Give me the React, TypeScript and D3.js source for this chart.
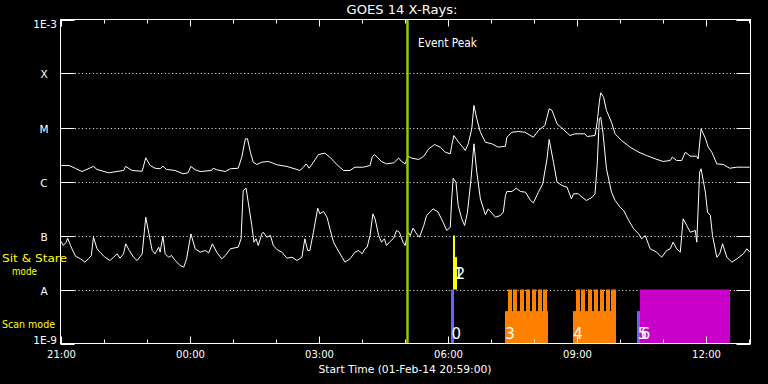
import React from "react";
import * as d3 from "d3";

// ---------------- DATA ----------------
// Time axis: start 01-Feb-14 20:59:00 UT
const startTime = "2014-02-01T20:59:00Z";
const endTime = "2014-02-02T13:02:00Z";
const refTime = "2014-02-01T21:00:00Z"; // series times are minutes after this

// GOES 14 long channel (1-8 A), W/m^2
const longMinutes = [0, 11, 20, 29, 45, 50, 66, 87, 90, 99, 113, 118, 124, 131, 138, 142, 147, 159, 170, 177, 181, 187, 194, 210, 212, 217, 229, 236, 247, 252, 257, 260, 264, 268, 273, 280, 289, 296, 301, 315, 329, 333, 338, 342, 346, 352, 359, 368, 375, 385, 394, 403, 410, 422, 431, 434, 437, 441, 447, 454, 464, 471, 475, 480, 484, 489, 499, 506, 513, 521, 529, 536, 543, 545, 548, 554, 564, 568, 573, 576, 580, 585, 592, 601, 610, 620, 622, 629, 638, 647, 659, 666, 675, 681, 685, 692, 699, 710, 717, 731, 734, 745, 748, 751, 753, 757, 761, 768, 773, 782, 794, 806, 817, 829, 840, 850, 853, 859, 866, 871, 878, 887, 889, 893, 899, 903, 908, 915, 924, 933, 943, 952, 961];
const longFlux = [1.98e-6, 1.98e-6, 1.74e-6, 1.53e-6, 1.9e-6, 1.67e-6, 1.45e-6, 1.6e-6, 1.9e-6, 1.6e-6, 1.55e-6, 2.75e-6, 1.98e-6, 1.76e-6, 1.72e-6, 1.92e-6, 1.67e-6, 1.6e-6, 1.39e-6, 1.45e-6, 1.9e-6, 1.65e-6, 1.53e-6, 1.6e-6, 1.76e-6, 1.65e-6, 1.53e-6, 1.72e-6, 1.76e-6, 2.82e-6, 6.17e-6, 6.17e-6, 3.49e-6, 2.28e-6, 2.07e-6, 2.28e-6, 2.35e-6, 2.18e-6, 2.04e-6, 1.9e-6, 1.67e-6, 1.6e-6, 1.84e-6, 2.12e-6, 1.76e-6, 2.28e-6, 3.16e-6, 3.34e-6, 2.82e-6, 2.04e-6, 1.6e-6, 1.6e-6, 1.84e-6, 1.84e-6, 1.98e-6, 2.82e-6, 3.16e-6, 2.82e-6, 2.35e-6, 2.12e-6, 2.22e-6, 2.71e-6, 2.35e-6, 2.12e-6, 2.94e-6, 2.71e-6, 2.56e-6, 2.94e-6, 4.03e-6, 4.84e-6, 4.32e-6, 3.49e-6, 3.26e-6, 4.64e-6, 7.11e-6, 5.51e-6, 3.75e-6, 4.99e-6, 9.46e-6, 2.56e-5, 1.45e-5, 8.18e-6, 5.34e-6, 4.99e-6, 4.32e-6, 4.5e-6, 6.61e-6, 8.18e-6, 8.43e-6, 8.18e-6, 6.61e-6, 8.8e-6, 1.09e-5, 2.22e-5, 2.07e-5, 1.17e-5, 9.7e-6, 7.11e-6, 7.64e-6, 7.64e-6, 6.81e-6, 7.11e-6, 1.25e-5, 2.94e-5, 4.4e-5, 3.62e-5, 2.07e-5, 1.25e-5, 7.64e-6, 5.75e-6, 4.32e-6, 3.49e-6, 3.03e-6, 2.63e-6, 2.35e-6, 2.45e-6, 2.82e-6, 2.45e-6, 2.45e-6, 3.49e-6, 2.94e-6, 2.94e-6, 2.63e-6, 9.46e-6, 6.34e-6, 4.32e-6, 3.49e-6, 2.12e-6, 2.07e-6, 1.76e-6, 1.84e-6, 1.84e-6, 1.84e-6];

// GOES 14 short channel (0.5-4 A), W/m^2
const shortMinutes = [0, 3, 7, 9, 13, 15, 20, 27, 33, 38, 42, 45, 50, 54, 61, 68, 73, 78, 82, 87, 90, 95, 101, 106, 113, 118, 122, 127, 131, 136, 138, 142, 145, 150, 154, 159, 166, 171, 175, 181, 187, 194, 201, 206, 211, 217, 224, 229, 236, 247, 251, 254, 258, 261, 266, 269, 272, 275, 280, 282, 287, 292, 296, 301, 308, 315, 322, 329, 336, 340, 344, 347, 352, 358, 361, 366, 371, 375, 380, 385, 392, 396, 403, 410, 415, 420, 424, 427, 431, 435, 438, 443, 447, 451, 454, 459, 464, 468, 472, 477, 480, 484, 487, 491, 496, 500, 506, 510, 519, 526, 533, 538, 543, 545, 547, 551, 554, 559, 563, 567, 572, 576, 580, 585, 592, 596, 602, 606, 613, 617, 620, 622, 629, 635, 641, 648, 655, 659, 666, 672, 678, 681, 687, 692, 699, 706, 712, 715, 722, 724, 733, 741, 745, 748, 751, 753, 756, 761, 768, 773, 780, 785, 792, 799, 806, 810, 815, 822, 831, 838, 845, 850, 854, 859, 864, 868, 873, 878, 885, 887, 891, 893, 899, 902, 906, 909, 915, 919, 923, 929, 936, 943, 952, 957, 961];
const shortFlux = [7.74e-8, 6.53e-8, 7.52e-8, 8.91e-8, 6.53e-8, 5.67e-8, 4.14e-8, 3.7e-8, 3.21e-8, 3.7e-8, 4.26e-8, 9.3e-8, 5.67e-8, 4.91e-8, 3.96e-8, 3.44e-8, 3.96e-8, 4.58e-8, 3.8e-8, 4.58e-8, 7.02e-8, 5.28e-8, 3.96e-8, 3.44e-8, 4.58e-8, 2.18e-7, 1.15e-7, 5.28e-8, 4.58e-8, 6.08e-8, 4.91e-8, 9.7e-8, 4.58e-8, 3.96e-8, 4.26e-8, 3.44e-8, 2.78e-8, 2.59e-8, 3.7e-8, 1.07e-7, 5.67e-8, 4.91e-8, 5.28e-8, 4.77e-8, 7.02e-8, 4.91e-8, 3.7e-8, 4.26e-8, 5.67e-8, 6.08e-8, 8.69e-8, 6.81e-7, 7.52e-7, 4.14e-7, 1.53e-7, 7.52e-8, 8.69e-8, 6.53e-8, 1.07e-7, 1.15e-7, 9.3e-8, 1.0e-7, 6.53e-8, 5.51e-8, 4.91e-8, 3.8e-8, 3.96e-8, 3.44e-8, 3.96e-8, 8.69e-8, 5.28e-8, 5.28e-8, 1.15e-7, 3.21e-7, 2.52e-7, 2.78e-7, 2.18e-7, 1.33e-7, 7.52e-8, 5.67e-8, 3.96e-8, 3.21e-8, 3.7e-8, 4.91e-8, 5.28e-8, 4.58e-8, 5.67e-8, 6.08e-8, 1.0e-7, 2.52e-7, 2.04e-7, 1.0e-7, 7.52e-8, 8.69e-8, 6.53e-8, 7.74e-8, 8.91e-8, 1.24e-7, 1.15e-7, 7.52e-8, 6.53e-8, 1.15e-7, 1.0e-7, 1.37e-7, 1.07e-7, 9.3e-8, 1.53e-7, 2.35e-7, 3.12e-7, 2.71e-7, 1.76e-7, 1.24e-7, 1.42e-7, 4.77e-7, 1.15e-6, 9.7e-7, 3.59e-7, 2.04e-7, 1.53e-7, 2.71e-7, 1.12e-6, 4.99e-6, 1.49e-6, 4.77e-7, 2.42e-7, 3.12e-7, 2.52e-7, 2.18e-7, 2.35e-7, 2.71e-7, 5.51e-7, 6.53e-7, 6.53e-7, 7.52e-7, 6.53e-7, 6.34e-7, 4.45e-7, 4.03e-7, 6.34e-7, 9.03e-7, 2.63e-6, 6.0e-6, 2.28e-6, 9.7e-7, 8.43e-7, 7.84e-7, 4.77e-7, 5.92e-7, 5.92e-7, 5.51e-7, 4.45e-7, 5.12e-7, 5.92e-7, 1.98e-6, 1.45e-5, 1.55e-5, 8.18e-6, 1.72e-6, 6.34e-7, 4.45e-7, 3.34e-7, 2.9e-7, 1.9e-7, 1.33e-7, 1.07e-7, 8.69e-8, 1.0e-7, 5.67e-8, 4.91e-8, 3.96e-8, 5.28e-8, 5.67e-8, 7.52e-8, 5.67e-8, 4.91e-8, 2.04e-7, 1.53e-7, 1.15e-7, 1.24e-7, 7.52e-8, 1.49e-6, 1.72e-6, 6.34e-7, 2.71e-7, 2.35e-7, 1.0e-7, 3.96e-8, 4.58e-8, 7.02e-8, 3.96e-8, 3.21e-8, 3.7e-8, 4.58e-8, 5.67e-8, 4.91e-8];

// Y axis decades and labels
const yDecades = [1e-3, 1e-4, 1e-5, 1e-6, 1e-7, 1e-8, 1e-9];
const yLabels = ["1E-3", "X", "M", "C", "B", "A", "1E-9"];
const gridDecades = [1e-4, 1e-5, 1e-6, 1e-7, 1e-8];

// Event peak
const eventPeakTime = "05:02";
const eventPeakLabel = "Event Peak";

// Observation events timeline
const eventIds = ["0", "1", "2", "3", "4", "5", "6"];
const eventStarts = ["06:04", "06:07", "06:10", "07:19", "08:54", "10:24", "10:28"];
const eventEnds = ["06:08", "06:10", "06:12", "08:19", "09:54", "10:28", "12:33"];
const eventModes = ["scan", "sit", "sit", "scan", "scan", "scan", "scan"];
const eventLevels = [1, 1, 0.6, 0.6, 0.6, 0.6, 1];
// raster sub-exposures of events 3 and 4
const rasterEvent = ["3", "3", "3", "3", "3", "3", "3", "4", "4", "4", "4", "4", "4", "4"];
const rasterStarts = ["07:23", "07:31", "07:40", "07:48", "07:57", "08:05", "08:13", "08:58", "09:06", "09:15", "09:23", "09:32", "09:40", "09:48"];
const rasterMinutes = 5.6;

const title = "GOES 14 X-Rays:";
const xTitle = "Start Time (01-Feb-14 20:59:00)";
const modeLabels = ["Sit & Stare", "mode", "Scan mode"];

// ---------------- STYLE ----------------
const eventColors = ["#6464ff", "#ffff00", "#ffff00", "#ff8000", "#ff8000", "#6464ff", "#c800c8"];
const FONT = "DejaVu Sans, sans-serif";

const X0 = 60.5, X1 = 750.5, Y0 = 19.5, Y1 = 343.5;

const ref = new Date(refTime).getTime();
const fromMinutes = (m: number) => new Date(ref + m * 60000);
const fromHM = (s: string) => {
  const [h, mm] = s.split(":").map(Number);
  let mins = h * 60 + mm - 21 * 60;
  if (mins < -120) mins += 1440;
  return fromMinutes(mins);
};

export default function App() {
  const x = d3.scaleUtc().domain([new Date(startTime), new Date(endTime)]).range([X0, X1]);
  const y = d3.scaleLog().domain([1e-9, 1e-3]).range([Y1, Y0]);

  const line = d3
    .line<[number, number]>()
    .x((d) => x(fromMinutes(d[0])))
    .y((d) => y(d[1]));

  const longPts = longMinutes.map((m, i) => [m, longFlux[i]] as [number, number]);
  const shortPts = shortMinutes.map((m, i) => [m, shortFlux[i]] as [number, number]);

  const hours = x.ticks(d3.utcHour.every(1) as any);
  const fmt = d3.utcFormat("%H:%M");

  const band = (mode: string) =>
    mode === "scan" ? [y(1e-9), y(1e-8)] : [y(1e-8), y(1e-7)];

  const peakX = Math.round(x(fromHM(eventPeakTime))) + 0.5;

  return (
    <div style={{ position: "fixed", left: 0, top: 0, width: 768, height: 384, background: "#000" }}>
      <svg width={768} height={384} style={{ display: "block", background: "#000" }} fontFamily={FONT}>
        <rect x={0} y={0} width={768} height={384} fill="#000" />
        {/* dotted grid */}
        {gridDecades.map((d) => (
          <line key={"g" + d} x1={X0} x2={X1} y1={Math.round(y(d)) + 0.5} y2={Math.round(y(d)) + 0.5}
            stroke="#fff" strokeWidth={1} strokeDasharray="1 2.6" />
        ))}
        {/* events */}
        {eventIds.map((id, i) => {
          const [b, t] = band(eventModes[i]);
          const top = b - (b - t) * eventLevels[i];
          const xs = Math.round(x(fromHM(eventStarts[i])));
          const xe = Math.round(x(fromHM(eventEnds[i])));
          return (
            <rect key={"e" + id} x={xs} y={top} width={Math.max(2, xe - xs)} height={b - top} fill={eventColors[i]} />
          );
        })}
        {rasterStarts.map((s, j) => {
          const i = eventIds.indexOf(rasterEvent[j]);
          const [b, t] = band(eventModes[i]);
          const xs = Math.round(x(fromHM(s)));
          const st = fromHM(s);
          const xe = Math.round(x(new Date(st.getTime() + rasterMinutes * 60000)));
          return <rect key={"r" + j} x={xs} y={t} width={xe - xs} height={b - t} fill={eventColors[i]} />;
        })}
        {/* curves */}
        <path d={line(longPts) || ""} fill="none" stroke="#fff" strokeWidth={1} />
        <path d={line(shortPts) || ""} fill="none" stroke="#fff" strokeWidth={1} />
        {/* event peak */}
        <line x1={peakX} x2={peakX} y1={Y0} y2={Y1} stroke="#9acd00" strokeWidth={2.4} />
        <text x={418} y={47} fill="#fff" fontSize={12} textLength={59} lengthAdjust="spacingAndGlyphs">{eventPeakLabel}</text>
        {/* event labels */}
        {eventIds.map((id, i) => {
          const [b] = band(eventModes[i]);
          const xs = x(fromHM(eventStarts[i]));
          return (
            <text key={"l" + id} x={xs + 0.5} y={eventModes[i] === "scan" ? b - 5 : b - 11} fill="#fff" fontSize={15}>
              {id}
            </text>
          );
        })}
        {/* frame */}
        <rect x={X0} y={Y0} width={X1 - X0} height={Y1 - Y0} fill="none" stroke="#fff" strokeWidth={1} />
        {/* x ticks */}
        {hours.map((h) => {
          const xx = Math.round(x(h)) + 0.5;
          const major = h.getUTCHours() % 3 === 0;
          const len = major ? 7 : 4;
          return (
            <g key={"t" + h.getTime()}>
              <line x1={xx} x2={xx} y1={Y0} y2={Y0 + len} stroke="#fff" />
              <line x1={xx} x2={xx} y1={Y1} y2={Y1 - len} stroke="#fff" />
              {major && (
                <text x={xx} y={358} fill="#fff" fontSize={10} textAnchor="middle">{fmt(h)}</text>
              )}
            </g>
          );
        })}
        {/* y ticks and labels */}
        {yDecades.map((d, i) => {
          const yy = Math.round(y(d)) + 0.5;
          const lab = yLabels[i];
          const isEdge = i === 0 || i === yDecades.length - 1;
          return (
            <g key={"y" + d}>
              <line x1={X0} x2={X0 + 14} y1={yy} y2={yy} stroke="#fff" />
              <line x1={X1} x2={X1 - 14} y1={yy} y2={yy} stroke="#fff" />
              <text
                x={isEdge ? 57 : 44}
                y={i === 0 ? yy + 7.5 : i === yDecades.length - 1 ? yy - 0.5 : yy + 4}
                fill="#fff"
                fontSize={10.5}
                textAnchor={isEdge ? "end" : "middle"}
              >
                {lab}
              </text>
            </g>
          );
        })}
        {/* titles */}
        <text x={402} y={14} fill="#fff" fontSize={12} textAnchor="middle" textLength={111} lengthAdjust="spacingAndGlyphs">{title}</text>
        <text x={405} y={373} fill="#fff" fontSize={10.5} textAnchor="middle" textLength={173} lengthAdjust="spacingAndGlyphs">{xTitle}</text>
        <text x={2} y={262} fill="#ffff00" fontSize={11} textLength={65} lengthAdjust="spacingAndGlyphs">{modeLabels[0]}</text>
        <text x={12} y={275} fill="#ffff00" fontSize={11} textLength={25} lengthAdjust="spacingAndGlyphs">{modeLabels[1]}</text>
        <text x={2} y={328} fill="#ffff00" fontSize={11} textLength={53} lengthAdjust="spacingAndGlyphs">{modeLabels[2]}</text>
      </svg>
    </div>
  );
}
